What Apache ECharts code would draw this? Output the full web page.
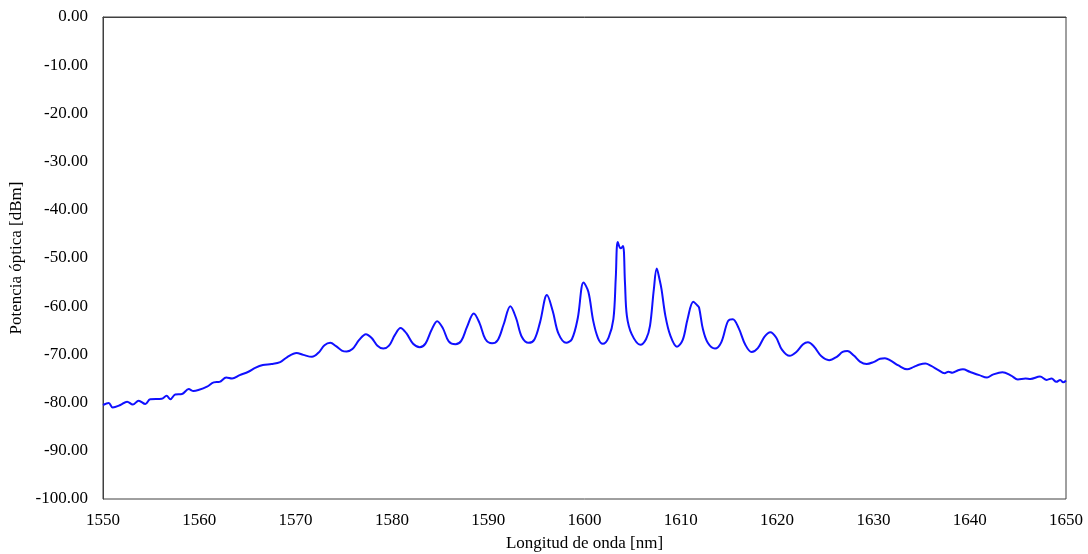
<!DOCTYPE html>
<html>
<head>
<meta charset="utf-8">
<script src="https://cdn.jsdelivr.net/npm/echarts@6/dist/echarts.min.js"></script>
<style>html,body{margin:0;padding:0;background:#fff}#c{width:1088px;height:554px}</style>
</head>
<body>
<div id="c"></div>
<script>
const wavelength = [
1550.0,1550.6,1551.0,1551.8,1552.5,1553.1,1553.7,1554.4,1554.9,1556.1,1556.6,1557.0,1557.5,1558.2,1558.9,1559.4,1559.9,1560.8,1561.5,1562.1,1562.8,1563.4,1564.2,1565.1,1565.8,1566.6,1567.5,1568.4,1569.1,1570.1,1570.8,1571.7,1572.4,1573.0,1573.6,1574.2,1574.8,1575.3,1575.9,1576.6,1577.3,1577.9,1578.5,1579.1,1579.7,1580.3,1580.9,1581.5,1582.2,1582.9,1583.5,1584.1,1584.7,1585.3,1585.9,1586.6,1587.2,1587.8,1588.5,1589.1,1589.7,1590.4,1591.0,1591.6,1592.3,1592.9,1593.5,1594.2,1594.8,1595.4,1596.1,1596.7,1597.3,1598.1,1598.7,1599.3,1599.9,1600.4,1600.9,1601.4,1601.9,1602.5,1603.0,1603.25,1603.45,1603.75,1604.0,1604.2,1604.4,1604.9,1605.8,1606.4,1606.8,1607.2,1607.5,1607.8,1608.0,1608.4,1608.9,1609.6,1610.2,1610.7,1611.3,1611.7,1611.9,1612.3,1612.8,1613.55,1614.2,1614.9,1615.4,1616.0,1616.7,1617.35,1618.0,1618.7,1619.3,1619.9,1620.5,1621.3,1622.0,1622.7,1623.2,1623.8,1624.6,1625.4,1626.2,1626.8,1627.3,1628.0,1628.6,1629.3,1630.0,1630.7,1631.2,1631.8,1632.6,1633.5,1634.2,1634.8,1635.4,1636.0,1636.7,1637.4,1637.8,1638.2,1638.8,1639.3,1640.0,1641.0,1641.8,1642.4,1643.4,1644.3,1645.0,1645.8,1646.3,1647.3,1648.0,1648.5,1649.0,1649.4,1649.7,1650.0
];
const power = [
-80.5,-80.1,-81.0,-80.5,-79.8,-80.4,-79.6,-80.3,-79.3,-79.2,-78.6,-79.3,-78.3,-78.2,-77.2,-77.6,-77.4,-76.7,-75.8,-75.7,-74.8,-75.0,-74.3,-73.6,-72.8,-72.2,-72.0,-71.6,-70.6,-69.7,-70.1,-70.5,-69.6,-68.1,-67.6,-68.3,-69.2,-69.4,-68.9,-67.0,-65.8,-66.6,-68.2,-68.8,-68.2,-66.0,-64.5,-65.6,-67.8,-68.5,-67.7,-65.0,-63.1,-64.6,-67.3,-67.9,-67.2,-64.3,-61.5,-63.5,-66.8,-67.7,-67.0,-63.8,-60.0,-62.5,-66.4,-67.6,-66.9,-63.2,-57.7,-61.0,-65.7,-67.6,-66.8,-62.5,-55.1,-57.0,-63.0,-66.6,-67.8,-66.5,-62.7,-54.0,-46.7,-48.0,-47.5,-55.0,-62.0,-65.8,-68.0,-66.8,-64.1,-56.5,-52.2,-54.5,-56.5,-62.0,-66.0,-68.4,-67.0,-62.7,-59.1,-59.8,-60.3,-64.8,-67.6,-68.8,-67.5,-63.1,-62.7,-64.5,-68.0,-69.5,-68.7,-66.3,-65.4,-66.5,-69.0,-70.3,-69.5,-67.9,-67.5,-68.3,-70.4,-71.2,-70.5,-69.5,-69.3,-70.3,-71.5,-72.0,-71.6,-70.9,-70.8,-71.3,-72.3,-73.1,-72.6,-72.1,-71.9,-72.4,-73.2,-73.9,-73.6,-73.8,-73.3,-73.1,-73.6,-74.3,-74.8,-74.2,-73.7,-74.4,-75.2,-75.0,-75.1,-74.6,-75.3,-75.0,-75.7,-75.3,-75.8,-75.4
];
const xTitle = 'Longitud de onda [nm]';
const yTitle = 'Potencia óptica [dBm]';

const chart = echarts.init(document.getElementById('c'), null, {renderer: 'canvas'});
const font = {fontFamily: 'Liberation Serif', fontSize: 17, color: '#000'};
chart.setOption({
  animation: false,
  grid: {left: 103, right: 22, top: 17, bottom: 55, show: true, borderColor: '#404040', borderWidth: 1, containLabel: false, outerBoundsMode: 'none'},
  xAxis: {
    type: 'value', min: 1550, max: 1650, interval: 10,
    name: xTitle, nameLocation: 'middle', nameGap: 36,
    nameTextStyle: font,
    axisLine: {show: true, lineStyle: {color: '#404040', width: 1}},
    axisTick: {show: false},
    splitLine: {show: false},
    axisLabel: Object.assign({margin: 13, formatter: v => String(v)}, font)
  },
  yAxis: {
    type: 'value', min: -100, max: 0, interval: 10,
    name: yTitle, nameLocation: 'middle', nameGap: 76,
    nameTextStyle: font,
    axisLine: {show: true, lineStyle: {color: '#404040', width: 1}},
    axisTick: {show: false},
    splitLine: {show: false},
    axisLabel: Object.assign({margin: 15, formatter: v => v.toFixed(2)}, font)
  },
  series: [{
    type: 'line',
    data: wavelength.map((w, i) => [w, power[i]]),
    showSymbol: false,
    smooth: 0.35,
    lineStyle: {color: '#1010ff', width: 2},
    itemStyle: {color: '#1010ff'}
  }]
});
</script>
</body>
</html>
